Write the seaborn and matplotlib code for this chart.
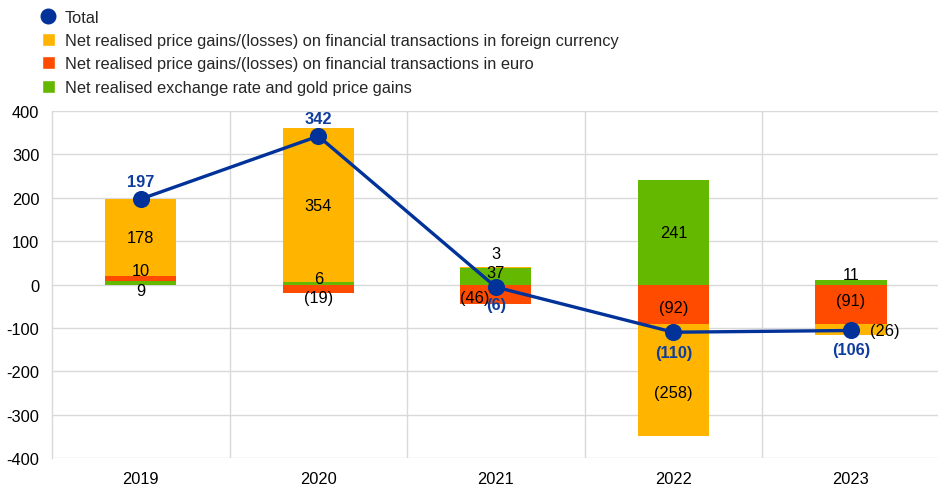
import numpy as np
import pandas as pd
import matplotlib
matplotlib.use("Agg")
import matplotlib.pyplot as plt
import seaborn as sns
from matplotlib.lines import Line2D
from matplotlib.patches import Patch

years = ["2019", "2020", "2021", "2022", "2023"]
foreign = [178, 354, 3, -258, -26]
euro = [10, -19, -46, -92, -91]
fx_gold = [9, 6, 37, 241, 11]
total = [197, 342, -6, -110, -106]

series_names = [
    "Net realised price gains/(losses) on financial transactions in foreign currency",
    "Net realised price gains/(losses) on financial transactions in euro",
    "Net realised exchange rate and gold price gains",
]
C_YEL = "#FFB400"
C_RED = "#FF4B00"
C_GRN = "#65B800"
C_BLUE = "#003299"
FS = 11.8

sns.set_theme(style="white")
plt.rcParams["font.family"] = ["Liberation Sans", "DejaVu Sans"]
plt.rcParams["axes.unicode_minus"] = False

fig = plt.figure(figsize=(9.38, 4.89), dpi=100)
ax = fig.add_axes([0.0554, 0.0613, 0.9446, 0.7097])

# stacking order: green, red, yellow (positives up, negatives down)
stack = [(fx_gold, C_GRN), (euro, C_RED), (foreign, C_YEL)]
pos_base = np.zeros(len(years))
neg_base = np.zeros(len(years))
segments = []
for vals, col in stack:
    v = np.array(vals, dtype=float)
    bottom = np.where(v >= 0, pos_base, neg_base)
    df = pd.DataFrame({"year": years, "value": v})
    sns.barplot(data=df, x="year", y="value", order=years, bottom=bottom,
                color=col, saturation=1, width=0.4, ax=ax, errorbar=None,
                linewidth=0, zorder=2)
    for i in range(len(years)):
        segments.append((i, v[i], bottom[i] + v[i] / 2))
    pos_base = np.where(v >= 0, pos_base + v, pos_base)
    neg_base = np.where(v < 0, neg_base + v, neg_base)

tdf = pd.DataFrame({"year": years, "total": total})
sns.pointplot(data=tdf, x="year", y="total", order=years, color=C_BLUE,
              markers="o", markersize=10.5, linewidth=2.4, ax=ax, zorder=4)

def fmt(v):
    v = int(round(v))
    return f"({abs(v)})" if v < 0 else f"{v}"

# label offsets (data units) for small segments
offsets = {(0, 9): (0, -18), (0, 10): (0, 18), (1, 6): (0, 11), (1, -19): (0, -21),
           (2, 3): (0, 32), (2, 37): (0, 10), (2, -46): (-0.12, -7),
           (3, -92): (0, -6), (3, -258): (0, -27),
           (4, 11): (0, 18), (4, -91): (0, 8), (4, -26): (0.19, 1)}
for i, v, c in segments:
    dx, dy = offsets.get((i, int(v)), (0, 0))
    if (i, int(v)) == (4, -26):
        c = total[4]
    ax.text(i + dx, c + dy, fmt(v), ha="center", va="center", fontsize=FS,
            color="black", zorder=5)

tot_off = [40, 40, -39, -46, -43]
for i, t in enumerate(total):
    ax.text(i, t + tot_off[i], fmt(t), ha="center", va="center", fontsize=FS,
            color="#0F3D9E", fontweight="bold", zorder=5)

ax.set_ylim(-400, 400)
ax.set_xlim(-0.5, 4.49)
ax.set_yticks(range(-400, 401, 100))
ax.yaxis.grid(True, color="#D9D9D9", linewidth=1)
ax.set_axisbelow(True)
for xv in [0.5, 1.5, 2.5, 3.5]:
    ax.axvline(xv, color="#D9D9D9", linewidth=1, zorder=0)
for s in ["top", "right", "bottom"]:
    ax.spines[s].set_visible(False)
ax.spines["left"].set_color("#D9D9D9")
ax.spines["left"].set_linewidth(1)
ax.set_xlabel("")
ax.set_ylabel("")
ax.tick_params(axis="both", length=0, labelsize=FS, colors="black")
ax.tick_params(axis="x", pad=9.5)
ax.tick_params(axis="y", pad=9)

handles = [Line2D([0], [0], marker="o", color="none", markerfacecolor=C_BLUE,
                  markeredgecolor=C_BLUE, markersize=10.5),
           Patch(facecolor=C_YEL), Patch(facecolor=C_RED), Patch(facecolor=C_GRN)]
fig.legend(handles, ["Total"] + series_names, loc="upper left",
           bbox_to_anchor=(0.0377, 0.992), frameon=False, fontsize=FS,
           handlelength=0.8, handleheight=0.85, handletextpad=0.6,
           labelspacing=0.5, borderaxespad=0)

fig.savefig("out.png", dpi=100)
